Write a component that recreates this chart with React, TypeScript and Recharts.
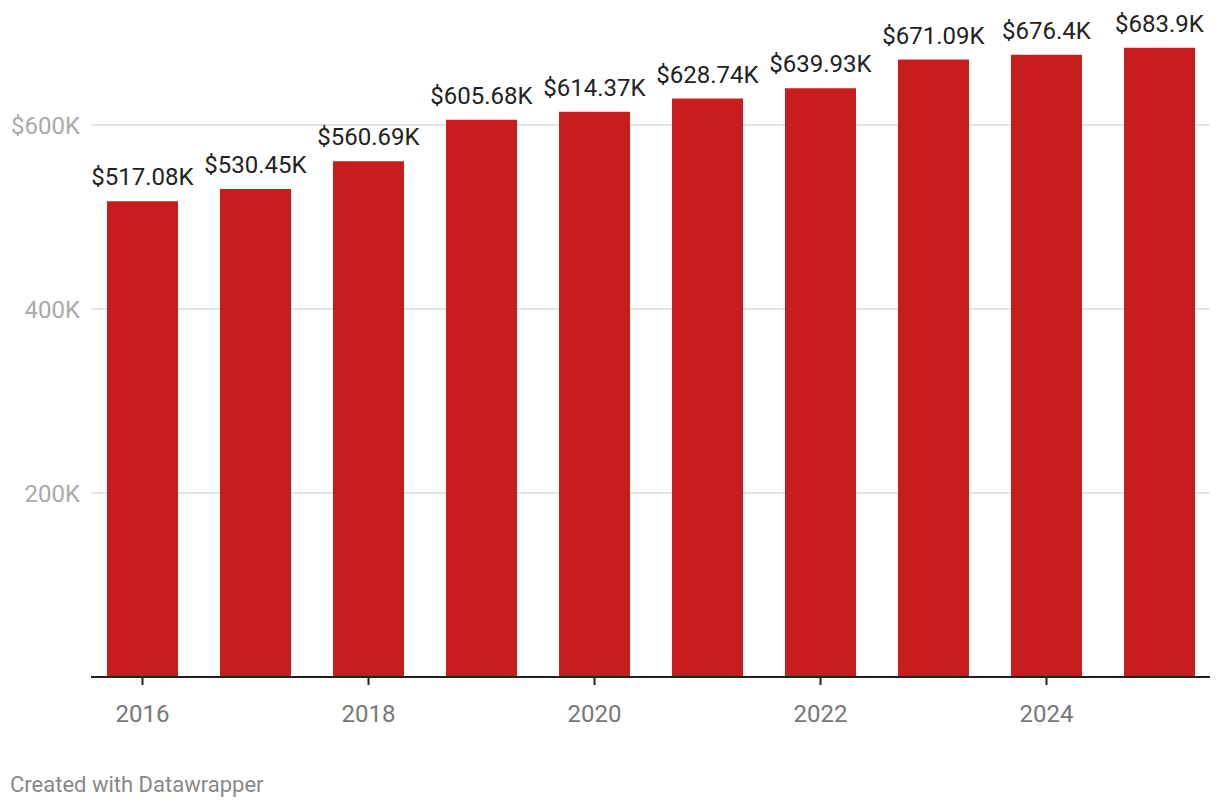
import { Bar, BarChart, CartesianGrid, LabelList, XAxis, YAxis } from 'recharts';

const years = ['2016', '2017', '2018', '2019', '2020', '2021', '2022', '2023', '2024', '2025'];
const prices = [517080, 530450, 560690, 605680, 614370, 628740, 639930, 671090, 676400, 683900];
const yTicks = [0, 200000, 400000, 600000];
const gridValues = [200000, 400000, 600000];

const data = years.map((year, i) => ({ year, price: prices[i] }));

const fmtY = (v: number) => {
  if (v === 0) return '';
  if (v === 600000) return '$600K';
  return `${v / 1000}K`;
};

const fmtLabel = (v: any) => `$${parseFloat((Number(v) / 1000).toFixed(2))}K`;

const App = () => {
  return (
    <div style={{ position: 'absolute', left: 0, top: 0, width: 1220, height: 810, background: '#fff', fontFamily: 'Roboto' }}>
      <BarChart
        width={1220}
        height={810}
        data={data}
        margin={{ top: 33, right: 10, left: 0, bottom: 103 }}
      >
        <CartesianGrid vertical={false} horizontalValues={gridValues} stroke="#e3e3e3" strokeWidth={2} />
        <XAxis
          dataKey="year"
          interval={1}
          height={30}
          padding={{ left: -5, right: -6 }}
          axisLine={{ stroke: '#222', strokeWidth: 2 }}
          tickLine={{ stroke: '#222', strokeWidth: 2 }}
          tickSize={8}
          tickMargin={20}
          tick={{ fill: '#777', fontSize: 24, fontFamily: 'Roboto' }}
        />
        <YAxis
          domain={[0, 700000]}
          ticks={yTicks}
          width={91}
          axisLine={false}
          tickLine={false}
          tickSize={0}
          tickMargin={11}
          tickFormatter={fmtY}
          tick={{ fill: '#aaa', fontSize: 24, fontFamily: 'Roboto' }}
        />
        <Bar dataKey="price" fill="#c71e1d" barSize={71} isAnimationActive={false}>
          <LabelList
            dataKey="price"
            position="top"
            offset={16}
            formatter={fmtLabel}
            style={{ fill: '#222', fontSize: 24, fontFamily: 'Roboto' }}
          />
        </Bar>
      </BarChart>
      <div style={{ position: 'absolute', left: 10, top: 772, fontSize: 22, color: '#888', fontFamily: 'Roboto' }}>
        Created with Datawrapper
      </div>
    </div>
  );
};

export default App;
